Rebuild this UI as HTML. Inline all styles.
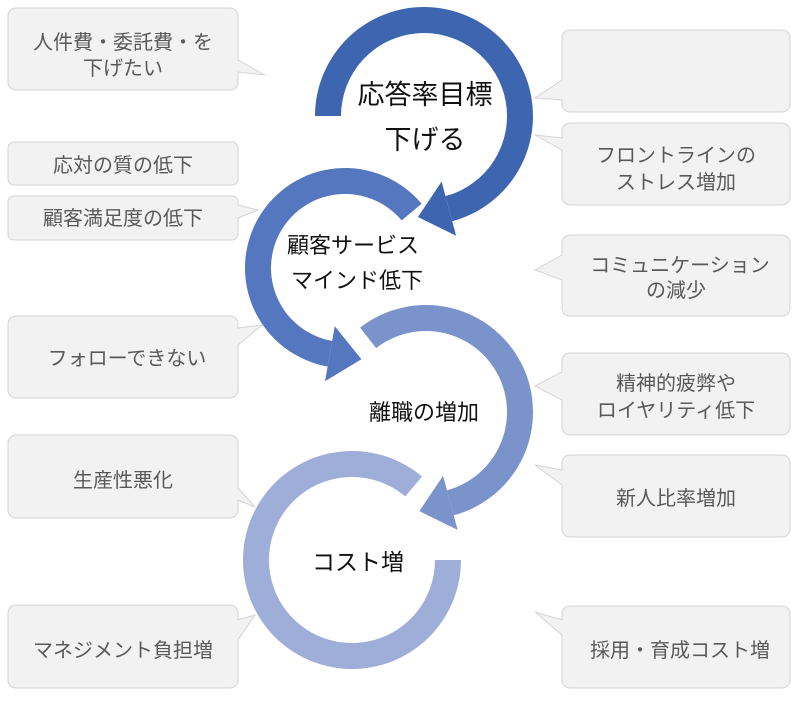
<!DOCTYPE html>
<html><head><meta charset="utf-8"><style>
html,body{margin:0;padding:0;background:#fff;}
svg{display:block;font-family:"Liberation Sans","Noto Sans CJK JP",sans-serif;}
.c{fill:#f2f2f2;stroke:#d4d4d4;stroke-width:1;}
.t{fill:#595959;font-size:20px;text-anchor:middle;}
.m{fill:#111;text-anchor:middle;}
</style></head><body>
<svg id="s" width="800" height="706" viewBox="0 0 800 706" xmlns="http://www.w3.org/2000/svg">
<g id="callouts">
<path class="c" d="M16,8 H230 a8,8 0 0 1 8,8 V60 L265,75 L238,72 V82 a8,8 0 0 1 -8,8 H16 a8,8 0 0 1 -8,-8 V16 a8,8 0 0 1 8,-8Z"/>
<path class="c" d="M14,142 H232 a6,6 0 0 1 6,6 V179 a6,6 0 0 1 -6,6 H14 a6,6 0 0 1 -6,-6 V148 a6,6 0 0 1 6,-6Z"/>
<path class="c" d="M14,196 H232 a6,6 0 0 1 6,6 V205 L258,210 L238,218 V234 a6,6 0 0 1 -6,6 H14 a6,6 0 0 1 -6,-6 V202 a6,6 0 0 1 6,-6Z"/>
<path class="c" d="M16,316 H230 a8,8 0 0 1 8,8 V328 L262,325 L238,345 V390 a8,8 0 0 1 -8,8 H16 a8,8 0 0 1 -8,-8 V324 a8,8 0 0 1 8,-8Z"/>
<path class="c" d="M16,435 H230 a8,8 0 0 1 8,8 V488 L255,507 L238,500 V510 a8,8 0 0 1 -8,8 H16 a8,8 0 0 1 -8,-8 V443 a8,8 0 0 1 8,-8Z"/>
<path class="c" d="M16,605 H230 a8,8 0 0 1 8,8 V620 L255,615 L238,640 V680 a8,8 0 0 1 -8,8 H16 a8,8 0 0 1 -8,-8 V613 a8,8 0 0 1 8,-8Z"/>
<path class="c" d="M570,30 H782 a8,8 0 0 1 8,8 V104 a8,8 0 0 1 -8,8 H570 a8,8 0 0 1 -8,-8 V100 L535,98 L562,80 V38 a8,8 0 0 1 8,-8Z"/>
<path class="c" d="M570,123 H782 a8,8 0 0 1 8,8 V197 a8,8 0 0 1 -8,8 H570 a8,8 0 0 1 -8,-8 V150 L535,135 L562,138 V131 a8,8 0 0 1 8,-8Z"/>
<path class="c" d="M570,235 H782 a8,8 0 0 1 8,8 V308 a8,8 0 0 1 -8,8 H570 a8,8 0 0 1 -8,-8 V280 L535,270 L562,255 V243 a8,8 0 0 1 8,-8Z"/>
<path class="c" d="M570,353 H782 a8,8 0 0 1 8,8 V427 a8,8 0 0 1 -8,8 H570 a8,8 0 0 1 -8,-8 V400 L535,386 L562,372 V361 a8,8 0 0 1 8,-8Z"/>
<path class="c" d="M570,455 H782 a8,8 0 0 1 8,8 V529 a8,8 0 0 1 -8,8 H570 a8,8 0 0 1 -8,-8 V485 L535,465 L562,470 V463 a8,8 0 0 1 8,-8Z"/>
<path class="c" d="M570,606 H782 a8,8 0 0 1 8,8 V680 a8,8 0 0 1 -8,8 H570 a8,8 0 0 1 -8,-8 V635 L535,612 L562,620 V614 a8,8 0 0 1 8,-8Z"/>
</g>
<g id="arcs"></g>
<text class="t" x="123" y="49">人件費・委託費・を</text>
<text class="t" x="123" y="75">下げたい</text>
<text class="t" x="123" y="172">応対の質の低下</text>
<text class="t" x="123" y="225">顧客満足度の低下</text>
<text class="t" x="127" y="365">フォローできない</text>
<text class="t" x="123" y="487">生産性悪化</text>
<text class="t" x="123" y="657">マネジメント負担増</text>
<text class="t" x="676" y="162">フロントラインの</text>
<text class="t" x="676" y="189">ストレス増加</text>
<text class="t" x="680" y="272">コミュニケーション</text>
<text class="t" x="676" y="297">の減少</text>
<text class="t" x="676" y="390">精神的疲弊や</text>
<text class="t" x="676" y="417">ロイヤリティ低下</text>
<text class="t" x="676" y="505">新人比率増加</text>
<text class="t" x="680" y="657">採用・育成コスト増</text>
<text class="m" x="425" y="104" font-size="27">応答率目標</text>
<text class="m" x="425" y="149" font-size="27">下げる</text>
<text class="m" x="353" y="253" font-size="22">顧客サービス</text>
<text class="m" x="357" y="288" font-size="22">マインド低下</text>
<text class="m" x="424" y="420" font-size="22">離職の増加</text>
<text class="m" x="358" y="570" font-size="23">コスト増</text>
</svg>
<script>
var g=document.getElementById('arcs'),NS='http://www.w3.org/2000/svg';
function P(cx,cy,r,a){a=a*Math.PI/180;return [cx+r*Math.cos(a),cy+r*Math.sin(a)];}
function arc(cx,cy,r,w,a0,a1,col,arrow){
 var ri=r-w/2,ro=r+w/2,cw=a1>a0,big=Math.abs(a1-a0)>180?1:0,s=cw?1:0,d='';
 var p1=P(cx,cy,ro,a0),p2=P(cx,cy,ro,a1),p3=P(cx,cy,ri,a1),p4=P(cx,cy,ri,a0);
 d='M'+p1+' A'+ro+','+ro+' 0 '+big+' '+s+' '+p2+' L'+p3+' A'+ri+','+ri+' 0 '+big+' '+(1-s)+' '+p4+'Z';
 var e=document.createElementNS(NS,'path');e.setAttribute('d',d);e.setAttribute('fill',col);g.appendChild(e);
 if(arrow){var a=a1*Math.PI/180,dir=cw?1:-1;
  var tx=-Math.sin(a)*dir,ty=Math.cos(a)*dir;
  var q1=P(cx,cy,r+28,a1),q2=P(cx,cy,r-28,a1),m=P(cx,cy,r,a1),tip=[m[0]+tx*32,m[1]+ty*32];
  var t=document.createElementNS(NS,'polygon');t.setAttribute('points',q1+' '+q2+' '+tip);t.setAttribute('fill',col);g.appendChild(t);}
}
arc(424,116,96,26,180,435,'#3e66b0',1);
arc(345,268,87,26,-40,-260,'#5577c0',1);
arc(426,412,94,26,-128,75,'#7a93cb',1);
arc(352,560,96,26,-50,-360,'#9faed8',0);
</script>
</body></html>
